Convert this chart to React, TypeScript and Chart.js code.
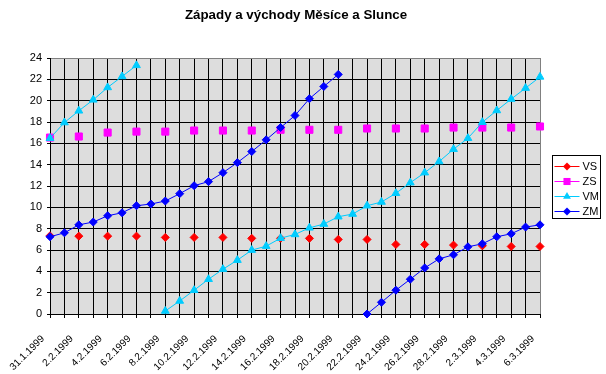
import React, { useEffect, useRef } from 'react';
import { Chart, registerables } from 'chart.js';

Chart.register(...registerables);

const FONT = "Arial, 'Liberation Sans', sans-serif";

const chartTitle = 'Západy a východy Měsíce a Slunce';

const dates = [
  '31.1.1999', '1.2.1999', '2.2.1999', '3.2.1999', '4.2.1999', '5.2.1999', '6.2.1999',
  '7.2.1999', '8.2.1999', '9.2.1999', '10.2.1999', '11.2.1999', '12.2.1999', '13.2.1999',
  '14.2.1999', '15.2.1999', '16.2.1999', '17.2.1999', '18.2.1999', '19.2.1999', '20.2.1999',
  '21.2.1999', '22.2.1999', '23.2.1999', '24.2.1999', '25.2.1999', '26.2.1999', '27.2.1999',
  '28.2.1999', '1.3.1999', '2.3.1999', '3.3.1999', '4.3.1999', '5.3.1999', '6.3.1999',
];

const yTicks = [0, 2, 4, 6, 8, 10, 12, 14, 16, 18, 20, 22, 24];

// východ Slunce
const VS = [
  7.33, null, 7.3, null, 7.3, null, 7.3, null, 7.18, null, 7.18, null, 7.18, null, 7.09, null,
  7.1, null, 7.09, null, 6.99, null, 6.99, null, 6.52, null, 6.52, null, 6.46, null, 6.39, null,
  6.33, null, 6.33,
];
// západ Slunce
const ZS = [
  16.54, null, 16.64, null, 17.01, null, 17.1, null, 17.1, null, 17.2, null, 17.2, null, 17.2, null,
  17.27, null, 17.27, null, 17.27, null, 17.39, null, 17.39, null, 17.39, null, 17.48, null, 17.48, null,
  17.48, null, 17.58,
];
// východ Měsíce
const VM = [
  16.48, 17.95, 19.05, 20.08, 21.24, 22.27, 23.31, null, 0.28, 1.22, 2.23, 3.26, 4.2, 5.05, 5.99,
  6.36, 7.11, 7.46, 8.08, 8.43, 9.12, 9.37, 10.15, 10.5, 11.32, 12.31, 13.25, 14.29, 15.45, 16.48,
  17.98, 19.08, 20.15, 21.18, 22.23,
];
// západ Měsíce
const ZM = [
  7.24, 7.61, 8.36, 8.62, 9.21, 9.49, 10.15, 10.31, 10.59, 11.28, 12.03, 12.41, 13.25, 14.19, 15.23,
  16.33, 17.48, 18.61, 20.18, 21.33, 22.46, null, 0, 1.1, 2.23, 3.26, 4.32, 5.17, 5.55, 6.3, 6.58,
  7.24, 7.52, 8.15, 8.36,
];

const seriesNames = ['VS', 'ZS', 'VM', 'ZM'];
const seriesColors = ['#FF0000', '#FF00FF', '#00CCFF', '#0000FF'];
const seriesMarkers = ['rectRot', 'rect', 'triangle', 'rectRot'];
const seriesRadius = [4, 5, 4.5, 4];
const seriesData = [VS, ZS, VM, ZM];

function drawMarker(ctx: CanvasRenderingContext2D, style: string, x: number, y: number, r: number, color: string) {
  ctx.save();
  ctx.fillStyle = color;
  ctx.beginPath();
  if (style === 'rectRot') {
    ctx.moveTo(x - r, y);
    ctx.lineTo(x, y - r);
    ctx.lineTo(x + r, y);
    ctx.lineTo(x, y + r);
  } else if (style === 'rect') {
    const s = r * Math.SQRT1_2;
    ctx.rect(x - s, y - s, 2 * s, 2 * s);
  } else {
    ctx.moveTo(x, y - r);
    ctx.lineTo(x + r * 0.866, y + r * 0.5);
    ctx.lineTo(x - r * 0.866, y + r * 0.5);
  }
  ctx.closePath();
  ctx.fill();
  ctx.restore();
}

export default function App() {
  const ref = useRef<HTMLCanvasElement>(null);

  useEffect(() => {
    if (!ref.current) return;

    const plotBg = {
      id: 'plotBg',
      beforeDraw(chart: any) {
        const { ctx, chartArea } = chart;
        ctx.save();
        ctx.fillStyle = '#DDDDDD';
        ctx.fillRect(chartArea.left, chartArea.top, chartArea.right - chartArea.left, chartArea.bottom - chartArea.top);
        ctx.restore();
      },
    };

    const titlePlugin = {
      id: 'customTitle',
      afterDraw(chart: any) {
        const { ctx } = chart;
        ctx.save();
        ctx.fillStyle = '#000000';
        ctx.font = `bold 13.33px ${FONT}`;
        ctx.textAlign = 'center';
        ctx.textBaseline = 'middle';
        ctx.fillText(chartTitle, 296, 15);
        ctx.restore();
      },
    };

    const legendBox = {
      id: 'legendBox',
      afterDraw(chart: any) {
        const { ctx, chartArea } = chart;
        const bx = Math.round(chartArea.right) + 12.5;
        const bw = 48;
        const bh = 63;
        const by = Math.round((chartArea.top + chartArea.bottom) / 2 - bh / 2) + 0.5;
        ctx.save();
        ctx.fillStyle = '#FFFFFF';
        ctx.fillRect(bx, by, bw, bh);
        ctx.strokeStyle = '#000000';
        ctx.lineWidth = 1;
        ctx.strokeRect(bx, by, bw, bh);
        ctx.font = `11px ${FONT}`;
        ctx.textBaseline = 'middle';
        ctx.textAlign = 'left';
        seriesNames.forEach((name, i) => {
          const y = Math.round(by + 10 + i * 15.3);
          ctx.strokeStyle = seriesColors[i];
          ctx.beginPath();
          ctx.moveTo(bx + 2, y + 0.5);
          ctx.lineTo(bx + 27, y + 0.5);
          ctx.stroke();
          drawMarker(ctx, seriesMarkers[i], bx + 14.5, y + 0.5, seriesRadius[i], seriesColors[i]);
          ctx.fillStyle = '#000000';
          ctx.fillText(name, bx + 30, y + 1);
        });
        ctx.restore();
      },
    };

    const chart = new Chart(ref.current, {
      type: 'line',
      data: {
        labels: dates,
        datasets: seriesData.map((d, i) => ({
          label: seriesNames[i],
          data: d,
          borderColor: seriesColors[i],
          backgroundColor: seriesColors[i],
          borderWidth: 1,
          pointStyle: seriesMarkers[i] as any,
          pointRadius: seriesRadius[i],
          pointBorderWidth: 1,
          pointBorderColor: seriesColors[i],
          pointBackgroundColor: seriesColors[i],
          spanGaps: false,
          tension: 0,
          clip: false as any,
          order: 4 - i,
        })),
      },
      options: {
        responsive: false,
        animation: false,
        devicePixelRatio: 1,
        layout: { padding: { left: 0, right: 66, top: 58, bottom: 0 } },
        plugins: {
          legend: { display: false },
          tooltip: { enabled: false },
          title: { display: false },
        },
        scales: {
          x: {
            type: 'category',
            offset: false,
            afterFit(scale: any) {
              scale.height = 60;
            },
            grid: {
              color: (c: any) => (c.index === dates.length - 1 ? '#808080' : '#000000'),
              lineWidth: 1,
              tickLength: 4,
              tickColor: '#000000',
              drawOnChartArea: true,
            },
            border: { display: true, color: '#000000', width: 1 },
            ticks: {
              autoSkip: false,
              minRotation: 45,
              maxRotation: 45,
              padding: 15,
              labelOffset: -7,
              color: '#000000',
              font: { family: FONT, size: 10 },
              callback: (_v: any, i: number) => (i % 2 === 0 ? dates[i] : ''),
            },
          },
          y: {
            min: yTicks[0],
            max: yTicks[yTicks.length - 1],
            afterFit(scale: any) {
              scale.width = 50;
            },
            afterBuildTicks(scale: any) {
              scale.ticks = yTicks.map((v) => ({ value: v }));
            },
            grid: {
              color: (c: any) => (c.tick && c.tick.value === yTicks[yTicks.length - 1] ? '#808080' : '#000000'),
              lineWidth: 1,
              tickLength: 3,
              tickColor: '#000000',
            },
            border: { display: true, color: '#000000', width: 1 },
            ticks: {
              padding: 5,
              color: '#000000',
              font: { family: FONT, size: 11 },
            },
          },
        },
      },
      plugins: [plotBg, titlePlugin, legendBox],
    });

    return () => chart.destroy();
  }, []);

  return (
    <div style={{ position: 'absolute', left: 0, top: 0, width: 606, height: 374, background: '#FFFFFF' }}>
      <canvas ref={ref} width={606} height={374} style={{ display: 'block', width: 606, height: 374 }} />
    </div>
  );
}
